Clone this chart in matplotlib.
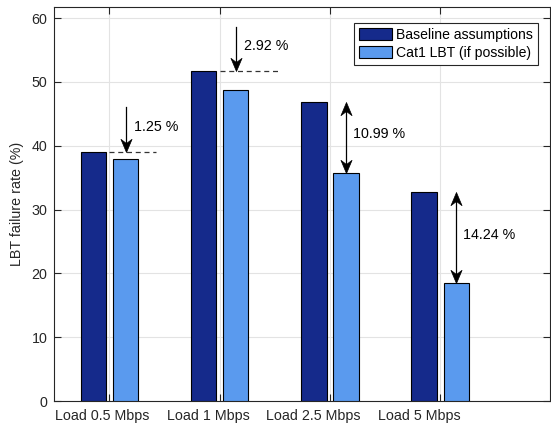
import matplotlib.pyplot as plt
import numpy as np
from matplotlib.path import Path

plt.rcParams['font.family'] = ['Liberation Sans', 'DejaVu Sans']

loads = ['Load 0.5 Mbps', 'Load 1 Mbps', 'Load 2.5 Mbps', 'Load 5 Mbps']
baseline = [39.10, 51.72, 46.80, 32.70]
cat1_lbt = [37.85, 48.80, 35.81, 18.46]
gaps = ['1.25 %', '2.92 %', '10.99 %', '14.24 %']

dark = '#152a8b'
light = '#5a9aee'
axcol = '#262626'

# notched arrowheads, tip at the origin
head_down = Path([(0, 0), (-0.42, 1), (0, 0.68), (0.42, 1), (0, 0)],
                 [Path.MOVETO, Path.LINETO, Path.LINETO, Path.LINETO, Path.CLOSEPOLY])
head_up = Path([(0, 0), (-0.42, -1), (0, -0.68), (0.42, -1), (0, 0)],
               [Path.MOVETO, Path.LINETO, Path.LINETO, Path.LINETO, Path.CLOSEPOLY])

fig = plt.figure(figsize=(5.51, 4.30), dpi=100)
ax = fig.add_axes([0.0985, 0.0674, 0.9005, 0.9156])

x = np.arange(1, len(loads) + 1)
off, w = 0.146, 0.23
ax.bar(x - off, baseline, w, color=dark, edgecolor='black', linewidth=0.8,
       label='Baseline assumptions', zorder=3)
ax.bar(x + off, cat1_lbt, w, color=light, edgecolor='black', linewidth=0.8,
       label='Cat1 LBT (if possible)', zorder=3)

ax.set_xlim(0.5, 5)
ax.set_ylim(0, 61.7)
ax.set_yticks(np.arange(0, 61, 10))
ax.set_xticks(x)
ax.set_xticklabels([])
ax.grid(True, color='#e3e3e3', linewidth=0.8, zorder=0)
ax.set_axisbelow(True)
ax.tick_params(direction='in', length=5, width=0.8, colors=axcol,
               top=True, right=True, labelsize=10.3, pad=5)
for s in ax.spines.values():
    s.set_color(axcol)
    s.set_linewidth(0.8)

# category labels sit a bit left of the ticks
label_x = [0.937, 1.895, 2.848, 3.81]
for lx, name in zip(label_x, loads):
    ax.text(lx, -0.02, name, transform=ax.get_xaxis_transform(),
            ha='center', va='top', fontsize=10.3, color=axcol)

ax.set_ylabel('LBT failure rate (%)', fontsize=10.3, color=axcol)
ax.yaxis.set_label_coords(-0.062, 0.5)

head_kw = dict(ls='none', ms=19, mfc='black', mec='black', mew=0.5, zorder=6)

# small gaps: down arrow onto a dashed reference line
dash_len = [0.42, 0.55]
for i in range(2):
    xa = x[i] + off
    ax.plot([x[i], x[i] + dash_len[i]], [baseline[i], baseline[i]],
            ls=(0, (4, 3)), color='#333333', lw=0.9, zorder=4)
    ax.plot([xa, xa], [baseline[i] + 6.9, baseline[i] + 0.5], color='black',
            lw=0.9, zorder=5)
    ax.plot([xa], [baseline[i]], marker=head_down, **head_kw)
    ax.text(xa + 0.075, baseline[i] + 3.9, gaps[i], ha='left', va='center',
            fontsize=10.3, color='black')

# large gaps: double arrow between the two bar tops
for i in range(2, 4):
    xa = x[i] + off
    ax.plot([xa, xa], [cat1_lbt[i] + 0.5, baseline[i] - 0.5], color='black',
            lw=0.9, zorder=5)
    ax.plot([xa], [baseline[i]], marker=head_up, **head_kw)
    ax.plot([xa], [cat1_lbt[i]], marker=head_down, **head_kw)
    ax.text(xa + 0.065, (baseline[i] + cat1_lbt[i]) / 2 + 0.5, gaps[i],
            ha='left', va='center', fontsize=10.3, color='black')

leg = ax.legend(loc='upper right', bbox_to_anchor=(0.975, 0.961),
                borderaxespad=0, fancybox=False, framealpha=1,
                edgecolor=axcol, fontsize=10.1, handlelength=2.35,
                handleheight=1.0, handletextpad=0.3, labelspacing=0.3,
                borderpad=0.35)
leg.get_frame().set_linewidth(0.8)

fig.savefig('out.png', dpi=100)
